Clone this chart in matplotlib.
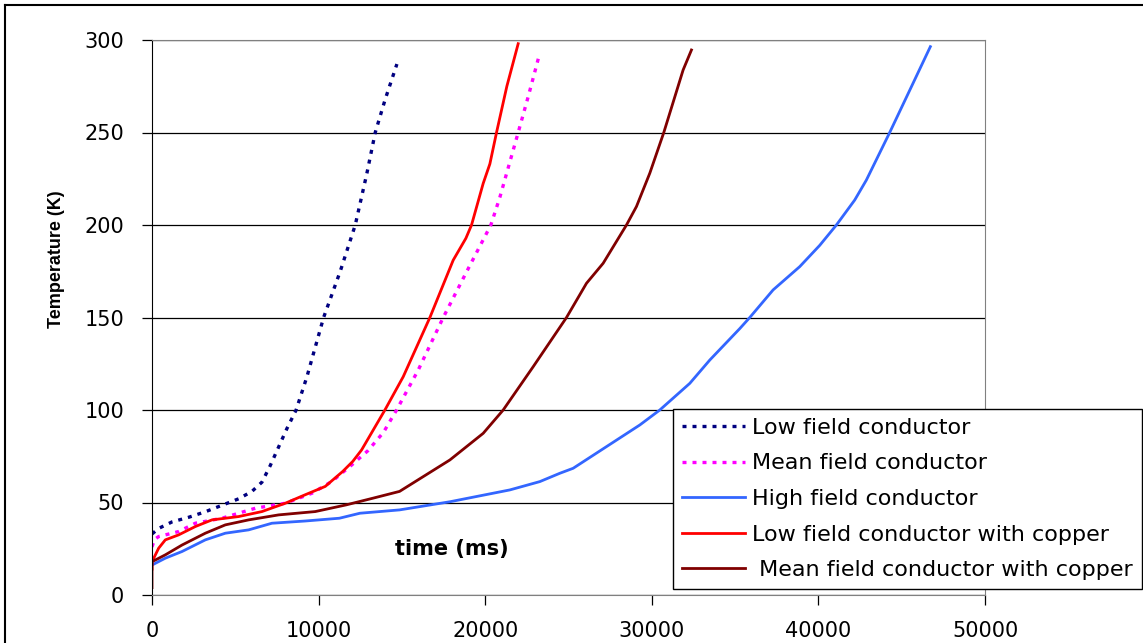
import matplotlib
matplotlib.use("Agg")
import matplotlib.pyplot as plt
from matplotlib.lines import Line2D

# time (ms) / temperature (K)
low_t = [0, 400, 1200, 2200, 3200, 4200, 5200, 6000, 6600, 7100, 7600, 8100,
         8650, 9300, 10300, 11300, 12200, 12900, 13400, 14000, 14700]
low_T = [33, 36, 39.5, 42, 45, 48.5, 52, 56, 61, 70, 80, 90,
         100, 118, 150, 175, 200, 228, 250, 268, 287]

mean_t = [0, 150, 400, 1600, 2600, 4200, 6200, 8000, 9600, 10800, 12000, 12960,
          13900, 14680, 15980, 17480, 18900, 20340, 20880, 21980, 22600, 23220]
mean_T = [26, 30, 31.6, 34.3, 38.8, 41.5, 46.9, 49.6, 55, 61.4, 70.4, 78,
          88, 100, 121.6, 150, 175, 200, 215, 250, 270, 291]

high_t = [0, 800, 1800, 3200, 4400, 5800, 7200, 9200, 11250, 12480, 14860,
          17880, 21480, 23280, 24480, 25280, 27280, 29280, 30480, 32280, 33480,
          35280, 35880, 37280, 38880, 40080, 41080, 42180, 42880, 44280, 45680, 46720]
high_T = [16.2, 19.9, 23.5, 29.8, 33.4, 35.2, 38.8, 40, 41.5, 44.2, 46,
          50.4, 56.8, 61.3, 65.8, 68.5, 80.2, 91.9, 100, 114.4, 127,
          144, 150, 164.9, 177.5, 189, 200, 213.5, 224.3, 250, 276.6, 296.4]

lowcu_t = [0, 0, 400, 800, 1600, 2600, 3600, 5200, 6600, 8000, 9200, 10400,
           11450, 12050, 12580, 13980, 15080, 16680, 18080, 18840, 19180, 19880,
           20280, 20680, 21300, 21980]
lowcu_T = [14, 18, 25.3, 29.8, 32.5, 37, 40.6, 42.4, 45.1, 49.6, 54.2, 58.7,
           66.8, 72.2, 78.4, 100, 118, 150, 181, 192.8, 200, 222.5,
           233, 250, 275, 298]

meancu_t = [0, 0, 800, 1800, 3200, 4400, 5800, 7600, 9800, 11650, 13250, 14860,
            17880, 19880, 21080, 22880, 24880, 26080, 27080, 28480, 29080,
            29880, 30720, 31880, 32380]
meancu_T = [4, 18, 21.7, 27, 33.4, 37.9, 40.6, 43.3, 45.1, 48.7, 52.3, 56,
            73, 87.4, 100, 123.4, 150, 168.5, 179.3, 200, 210,
            228, 250, 283.8, 294.6]

labels = ["Low field conductor", "Mean field conductor", "High field conductor",
          "Low field conductor with copper", " Mean field conductor with copper"]

W, H = 1143, 643
fig = plt.figure(figsize=(W / 100, H / 100), dpi=100)
ax = fig.add_axes([152 / W, 1 - 595 / H, (985 - 152) / W, (595 - 40) / H])

dots = (0, (1.2, 1.8))
ax.plot(low_t, low_T, color="#000080", lw=2.4, ls=dots, label=labels[0])
ax.plot(mean_t, mean_T, color="#FF00FF", lw=2.4, ls=dots, label=labels[1])
ax.plot(high_t, high_T, color="#3366FF", lw=2.0, label=labels[2])
ax.plot(lowcu_t, lowcu_T, color="#FF0000", lw=2.0, label=labels[3])
ax.plot(meancu_t, meancu_T, color="#800000", lw=2.0, label=labels[4])

ax.set_xlim(0, 50000)
ax.set_ylim(0, 300)
ax.set_xticks(range(0, 50001, 10000))
ax.set_yticks(range(0, 301, 50))
ax.yaxis.grid(True, color="black", lw=0.9)
ax.set_axisbelow(True)

for side in ["top", "right", "bottom"]:
    ax.spines[side].set_color("#808080")
ax.spines["left"].set_color("black")
ax.tick_params(direction="out", length=7, width=0.9, labelsize=15, colors="black")
ax.tick_params(axis="x", pad=12)
ax.tick_params(axis="y", pad=13)
for lab in ax.get_xticklabels() + ax.get_yticklabels():
    lab.set_family("DejaVu Sans")

ax.set_ylabel("Temperature (K)", fontsize=13, fontweight="bold",
              family="Liberation Sans")
ax.yaxis.set_label_coords(-0.104, 0.605)
ax.text(18000, 25, "time (ms)", fontsize=15, fontweight="bold",
        family="DejaVu Sans", ha="center", va="center")

leg = fig.legend(loc="upper left", bbox_to_anchor=(673 / W, 1 - 409 / H),
                 prop={"family": "DejaVu Sans", "size": 16},
                 frameon=True, fancybox=False, framealpha=1,
                 handlelength=2.85, handletextpad=0.3, labelspacing=0.7,
                 borderpad=0.4, borderaxespad=0)
leg.get_frame().set_edgecolor("black")
leg.get_frame().set_linewidth(1.0)

# outer chart border (left and top edges are inside the picture)
x0, y0 = 5 / W, 1 - 5 / H
fig.lines.append(Line2D([x0, x0], [0, y0], transform=fig.transFigure,
                        color="black", lw=1.5))
fig.lines.append(Line2D([x0, 1.01], [y0, y0], transform=fig.transFigure,
                        color="black", lw=1.5))

fig.savefig("out.png", dpi=100)
